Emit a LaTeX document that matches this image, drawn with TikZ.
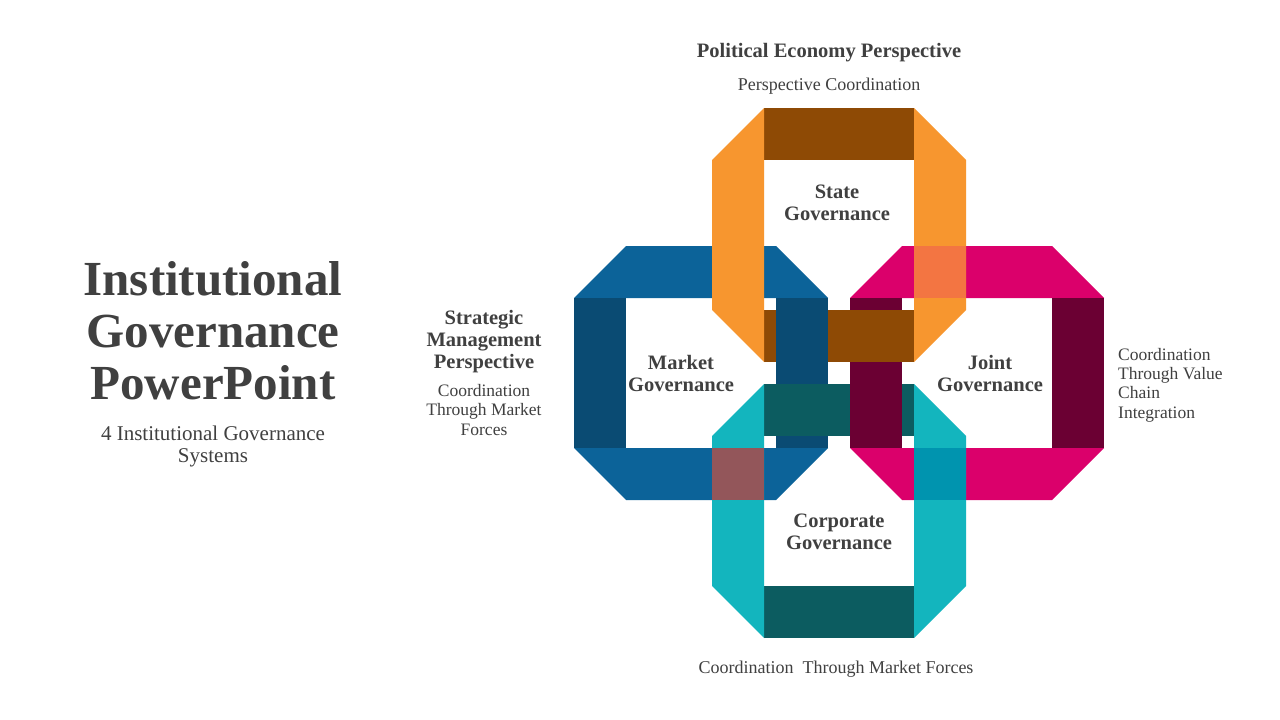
\documentclass[tikz,border=0pt]{standalone}
\usepackage{fontspec}
\setmainfont{Liberation Serif}
\definecolor{textgray}{HTML}{404040}
\definecolor{orglt}{HTML}{F7962F}
\definecolor{orgdk}{HTML}{8E4A05}
\definecolor{bluelt}{HTML}{0C6399}
\definecolor{bluedk}{HTML}{0A4B73}
\definecolor{pinklt}{HTML}{DB006B}
\definecolor{pinkdk}{HTML}{6B0033}
\definecolor{teallt}{HTML}{13B5BE}
\definecolor{tealdk}{HTML}{0C5C60}
\definecolor{blendcoral}{HTML}{F37542}
\definecolor{blendmauve}{HTML}{93565A}
\definecolor{blendteal}{HTML}{0094AF}
\newcommand\vertring[4]{%
 \fill[#4] ({#1-75},{#2-127}) rectangle ({#1+75},{#2-75});
 \fill[#4] ({#1-75},{#2+75}) rectangle ({#1+75},{#2+127});
 \fill[#3] ({#1-127},{#2-75}) -- ({#1-75},{#2-127}) -- ({#1-75},{#2+127}) -- ({#1-127},{#2+75}) -- cycle;
 \fill[#3] ({#1+127},{#2-75}) -- ({#1+75},{#2-127}) -- ({#1+75},{#2+127}) -- ({#1+127},{#2+75}) -- cycle;
}
\newcommand\horzring[4]{%
 \fill[#3] ({#1-127},{#2-75}) -- ({#1-75},{#2-127}) -- ({#1+75},{#2-127}) -- ({#1+127},{#2-75}) -- cycle;
 \fill[#3] ({#1-127},{#2+75}) -- ({#1-75},{#2+127}) -- ({#1+75},{#2+127}) -- ({#1+127},{#2+75}) -- cycle;
 \fill[#4] ({#1-127},{#2-75}) rectangle ({#1-75},{#2+75});
 \fill[#4] ({#1+75},{#2-75}) rectangle ({#1+127},{#2+75});
}
\begin{document}
\begin{tikzpicture}[x=1pt,y=-1pt,
  txt/.style={text=textgray, inner sep=0pt, align=center},
  title/.style={txt, font=\fontsize{49}{52}\selectfont\bfseries},
  head/.style={txt, font=\fontsize{20.5}{22}\selectfont\bfseries},
  body/.style={txt, font=\fontsize{18}{22}\selectfont},
  small/.style={txt, font=\fontsize{17.5}{19.3}\selectfont}]
\useasboundingbox (0,0) rectangle (1280,720);
\fill[white] (0,0) rectangle (1280,720);
% rings
\horzring{701}{373}{bluelt}{bluedk}
\horzring{977}{373}{pinklt}{pinkdk}
\vertring{839}{235}{orglt}{orgdk}
\fill[bluedk] (776,298) rectangle (828,448);
\vertring{839}{511}{teallt}{tealdk}
\fill[pinkdk] (850,362) rectangle (902,448);
\fill[blendcoral] (914,246) rectangle (966,298);
\fill[blendmauve] (712,448) rectangle (764,500);
\fill[blendteal] (914,448) rectangle (966,500);
% texts
\node[title] (t1) at (213,331) {Institutional\\Governance\\PowerPoint};
\node[body, font=\fontsize{21}{22}\selectfont] (t2) at (213,446) {4 Institutional Governance\\Systems};
\node[head] (pol) at (829,53) {Political Economy Perspective};
\node[body] (polc) at (829,86) {Perspective Coordination};
\node[head] (st) at (837,203) {State\\Governance};
\node[head] (mk) at (681,373) {Market\\Governance};
\node[head] (jt) at (990,373) {Joint\\Governance};
\node[head] (cp) at (839,532) {Corporate\\Governance};
\node[head] (smp) at (484,342) {Strategic\\Management\\Perspective};
\node[small] (smpc) at (484,410) {Coordination\\Through Market\\Forces};
\node[small, align=left, anchor=west] (jtc) at (1118,385) {Coordination\\Through Value\\Chain\\Integration};
\node[body] (cpc) at (836,669) {Coordination~ Through Market Forces};
\end{tikzpicture}
\end{document}
